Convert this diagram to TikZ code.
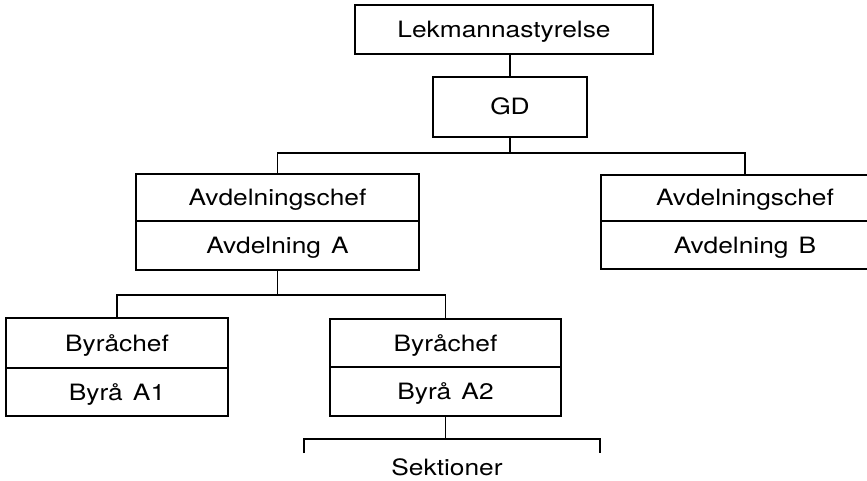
\documentclass[tikz,border=0pt]{standalone}
\usepackage{fontspec}
\setmainfont[FakeStretch=1.17]{TeX Gyre Heros}
\begin{document}
\begin{tikzpicture}[x=1pt,y=-1pt,
  every node/.style={inner sep=0pt, text height=16pt, text depth=0pt, font=\fontsize{22.5}{26}\selectfont},
  cell/.style={draw, line width=1.4pt, rectangle, minimum width=#1},
  conn/.style={line width=1.4pt}]
\useasboundingbox (0,0) rectangle (867,481);
\clip (0,0) rectangle (867,481);
% top
\node[cell=298, minimum height=49] (lek) at (504,29.5) {Lekmannastyrelse};
\node[cell=154, minimum height=60] (gd) at (510,107) {GD};
% department A
\node[cell=283, minimum height=47] (avdAt) at (277.5,197.5) {Avdelningschef};
\node[cell=283, minimum height=49] (avdAb) at (277.5,245.5) {Avdelning\hspace{0.45em}A};
% department B
\node[cell=288, minimum height=46] (avdBt) at (745,198) {Avdelningschef};
\node[cell=288, minimum height=48] (avdBb) at (745,245) {Avdelning\hspace{0.45em}B};
% bureaus
\node[cell=222, minimum height=50] (a1t) at (117,343) {Byråchef};
\node[cell=222, minimum height=48] (a1b) at (117,392) {Byrå\hspace{0.45em}A1};
\node[cell=231, minimum height=48] (a2t) at (445.5,343) {Byråchef};
\node[cell=231, minimum height=49] (a2b) at (445.5,391.5) {Byrå\hspace{0.45em}A2};
% sections
\node[anchor=base] (sek) at (447,475) {Sektioner};
% connector points
\coordinate (b1) at (gd.south |- 0,153);
\coordinate (b2) at (avdAb.south |- 0,295);
\coordinate (b3) at (a2b.south |- 0,439);
\coordinate (s1) at (304,453);
\coordinate (s2) at (600,453);
% connectors
\draw[conn] (gd.north) -- (gd.north |- lek.south);
\draw[conn] (gd.south) -- (b1);
\draw[conn] (avdAt.north) |- (b1) -| (avdBt.north);
\draw[conn] (avdAb.south) -- (b2);
\draw[conn] (a1t.north) |- (b2) -| (a2t.north);
\draw[conn] (a2b.south) -- (b3);
\draw[conn] (s1) |- (b3) -| (s2);
\end{tikzpicture}
\end{document}
